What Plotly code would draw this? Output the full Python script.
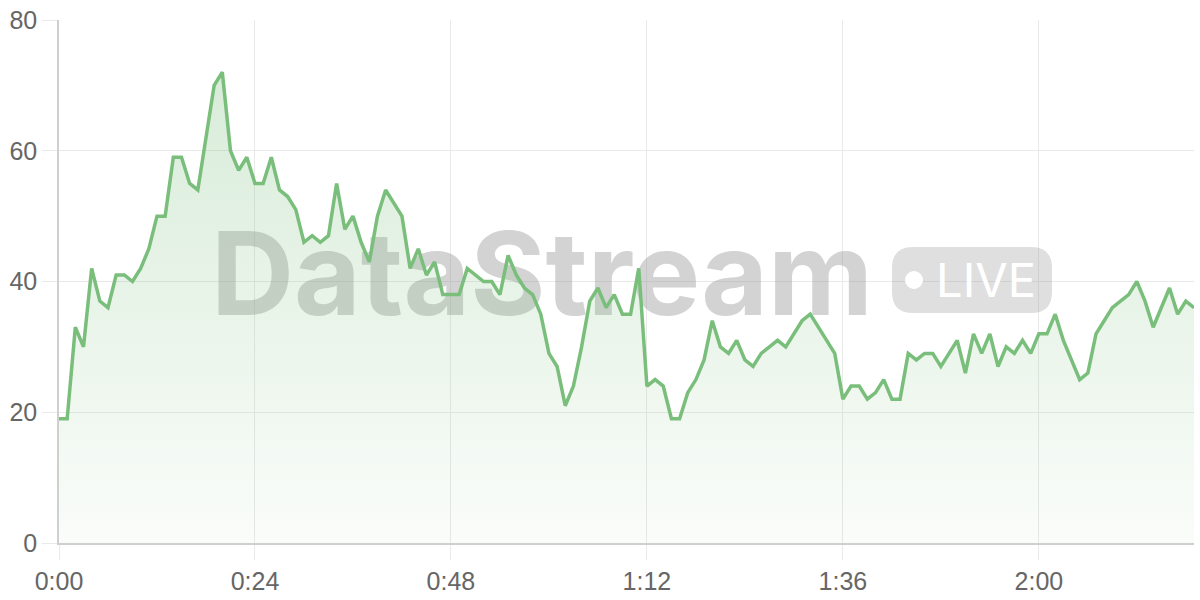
import plotly.graph_objects as go

# ---- data -------------------------------------------------------------
seconds = list(range(140))
values = [19, 19, 33, 30, 42, 37, 36, 41, 41, 40,
          42, 45, 50, 50, 59, 59, 55, 54, 62, 70,
          72, 60, 57, 59, 55, 55, 59, 54, 53, 51,
          46, 47, 46, 47, 55, 48, 50, 46, 43, 50,
          54, 52, 50, 42, 45, 41, 43, 38, 38, 38,
          42, 41, 40, 40, 38, 44, 41, 39, 38, 35,
          29, 27, 21, 24, 30, 37, 39, 36, 38, 35,
          35, 42, 24, 25, 24, 19, 19, 23, 25, 28,
          34, 30, 29, 31, 28, 27, 29, 30, 31, 30,
          32, 34, 35, 33, 31, 29, 22, 24, 24, 22,
          23, 25, 22, 22, 29, 28, 29, 29, 27, 29,
          31, 26, 32, 29, 32, 27, 30, 29, 31, 29,
          32, 32, 35, 31, 28, 25, 26, 32, 34, 36,
          37, 38, 40, 37, 33, 36, 39, 35, 37, 36]
x_tickvals = [0, 24, 48, 72, 96, 120]
x_ticktext = ["0:00", "0:24", "0:48", "1:12", "1:36", "2:00"]
y_tickvals = [0, 20, 40, 60, 80]
watermark_title = "DataStream"
watermark_badge = "LIVE"

# ---- layout geometry (pixels) ------------------------------------------
W, H = 1200, 600
L, R, T, B = 59, 6, 20, 57
X_MAX, Y_MAX = 139, 80
plot_w = W - L - R
plot_h = H - T - B


def px2x(px):
    return (px - L) / plot_w * X_MAX


def px2y(py):
    return (H - B - py) / plot_h * Y_MAX


LINE = "rgb(122,190,124)"

fig = go.Figure()

# watermark text (below the data line)
fig.add_trace(go.Scatter(
    x=[px2x(542)], y=[px2y(286)], mode="text", text=[watermark_title],
    textfont=dict(family="Inter", size=115, weight="bold",
                  color="rgba(150,150,150,0.42)"),
    hoverinfo="skip", showlegend=False, cliponaxis=False))
fig.add_trace(go.Scatter(
    x=[px2x(986)], y=[px2y(285)], mode="text", text=[watermark_badge],
    textfont=dict(family="Inter", size=47, color="white"),
    hoverinfo="skip", showlegend=False, cliponaxis=False))

# main series
fig.add_trace(go.Scatter(
    x=seconds, y=values, mode="lines",
    line=dict(color=LINE, width=3.5),
    fill="tozeroy",
    fillgradient=dict(type="vertical", start=0, stop=80,
                      colorscale=[[0, "rgba(122,190,124,0.04)"],
                                  [1, "rgba(122,190,124,0.32)"]]),
    hoverinfo="skip", showlegend=False))

# LIVE pill
x0, x1, y0, y1, r = 892, 1052, 247, 313, 21
rx = px2x(L + r) - px2x(L)
ry = px2y(H - B - r) - px2y(H - B)
X0, X1, Y0, Y1 = px2x(x0), px2x(x1), px2y(y1), px2y(y0)
path = (f"M {X0+rx},{Y0} L {X1-rx},{Y0} Q {X1},{Y0} {X1},{Y0+ry} "
        f"L {X1},{Y1-ry} Q {X1},{Y1} {X1-rx},{Y1} L {X0+rx},{Y1} "
        f"Q {X0},{Y1} {X0},{Y1-ry} L {X0},{Y0+ry} Q {X0},{Y0} {X0+rx},{Y0} Z")
fig.add_shape(type="path", path=path, xref="x", yref="y", layer="between",
              fillcolor="rgba(150,150,150,0.3)", line=dict(width=0))
fig.add_shape(type="circle", xref="x", yref="y", layer="between",
              x0=px2x(905), x1=px2x(923), y0=px2y(289), y1=px2y(271),
              fillcolor="white", line=dict(width=0))

axis_font = dict(family="Liberation Sans", size=25, color="#666666")
fig.update_layout(
    width=W, height=H,
    margin=dict(l=L, r=R, t=T, b=B),
    paper_bgcolor="white", plot_bgcolor="white",
    showlegend=False,
    xaxis=dict(range=[0, X_MAX], tickvals=x_tickvals, ticktext=x_ticktext,
               showgrid=True, gridcolor="#e9e9e9", gridwidth=1,
               showline=True, linecolor="#cfcfcf", linewidth=1.5,
               ticks="outside", ticklen=15, tickcolor="#e9e9e9",
               zeroline=False, tickfont=axis_font, fixedrange=True),
    yaxis=dict(range=[0, Y_MAX], tickvals=y_tickvals,
               showgrid=True, gridcolor="#e9e9e9", gridwidth=1,
               showline=True, linecolor="#cfcfcf", linewidth=1.5,
               ticks="outside", ticklen=15, tickcolor="#e9e9e9",
               zeroline=False, tickfont=axis_font, fixedrange=True),
)

fig.write_html("out.html", config={"displayModeBar": False},
               post_script="document.body.style.margin='0';"
                           "document.body.style.overflow='hidden';")
